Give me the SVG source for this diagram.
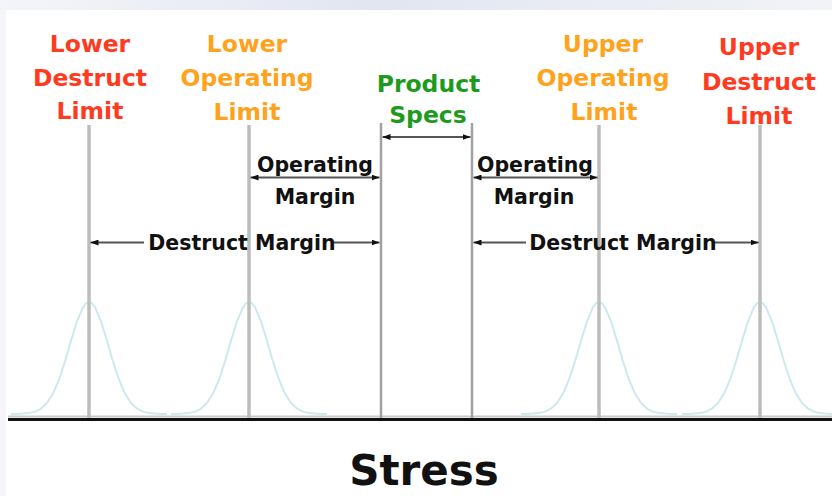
<svg xmlns="http://www.w3.org/2000/svg" width="832" height="496" viewBox="0 0 832 496">
  <style>
    .lbl { font-family: "DejaVu Sans", Verdana, sans-serif; font-weight: bold; text-anchor: middle; }
    .limit { font-size: 23.5px; }
    .destruct { fill: #ff3b1f; }
    .operating { fill: #ffa21c; }
    .spec { fill: #1e9b1e; font-size: 23.5px; }
    .margin { fill: #111111; font-size: 20.5px; }
    .axis-title { fill: #111111; font-size: 42px; }
    .limit-line { stroke: #bcbcbc; stroke-width: 3.5; }
    .spec-line { stroke: #a2a2a2; stroke-width: 2.5; }
    .dim { stroke: #555555; stroke-width: 2; fill: none; }
    .bell { stroke: #cde9ee; stroke-width: 2; fill: none; stroke-linejoin: round; }
  </style>
  <defs>
    <linearGradient id="topBand" x1="0" y1="0" x2="1" y2="0">
      <stop offset="0" stop-color="#f4f5fa"/>
      <stop offset="0.45" stop-color="#e2e6ef"/>
      <stop offset="1" stop-color="#f1f3f7"/>
    </linearGradient>
    <marker id="tip" viewBox="0 0 8 6" refX="8" refY="3" markerWidth="8" markerHeight="6" markerUnits="userSpaceOnUse" orient="auto-start-reverse">
      <path d="M0,0 L8,3 L0,6 z" fill="#111111"/>
    </marker>
    <!-- normal distribution curve, centred on x = 0 -->
    <path id="bellCurve" class="bell" d="M-78,414 L-72,414 L-66,413.6 L-60,413 L-54,411.6 L-48,408.6 L-42,403 L-36,393.6 L-30,379.7 L-24,361.5 L-18,340.9 L-12,321.3 L-6,307.2 L-3,303.3 L0,302 L3,303.3 L6,307.2 L12,321.3 L18,340.9 L24,361.5 L30,379.7 L36,393.6 L42,403 L48,408.6 L54,411.6 L60,413 L66,413.6 L72,414 L78,414"/>
  </defs>

  <!-- page background -->
  <rect x="0" y="0" width="832" height="496" fill="#ffffff"/>
  <rect x="0" y="0" width="832" height="10" fill="url(#topBand)"/>
  <rect x="0" y="10" width="6" height="486" fill="#f5f5fa"/>

  <!-- distributions around each limit -->
  <g id="distributions">
    <use href="#bellCurve" transform="translate(89,0)"/>
    <use href="#bellCurve" transform="translate(249,0)"/>
    <use href="#bellCurve" transform="translate(599,0)"/>
    <use href="#bellCurve" transform="translate(760,0)"/>
  </g>

  <!-- stress axis -->
  <g id="axis">
    <line x1="8" y1="416.5" x2="832" y2="416.5" stroke="#c9c9c9" stroke-width="2"/>
    <line x1="8" y1="419.5" x2="832" y2="419.5" stroke="#111111" stroke-width="3"/>
    <text class="lbl axis-title" x="424" y="485">Stress</text>
  </g>

  <g id="lower-destruct-limit">
    <line class="limit-line" x1="89" y1="125" x2="89" y2="418"/>
    <text class="lbl limit destruct" x="90" y="52">Lower</text>
    <text class="lbl limit destruct" x="90" y="86">Destruct</text>
    <text class="lbl limit destruct" x="90" y="119">Limit</text>
  </g>

  <g id="lower-operating-limit">
    <line class="limit-line" x1="249" y1="125" x2="249" y2="418"/>
    <text class="lbl limit operating" x="247" y="52">Lower</text>
    <text class="lbl limit operating" x="247" y="86">Operating</text>
    <text class="lbl limit operating" x="247" y="120">Limit</text>
  </g>

  <g id="product-specs">
    <line class="spec-line" x1="381" y1="123" x2="381" y2="418"/>
    <line class="spec-line" x1="472" y1="123" x2="472" y2="418"/>
    <text class="lbl spec" x="428.5" y="92">Product</text>
    <text class="lbl spec" x="428" y="123">Specs</text>
  </g>

  <g id="upper-operating-limit">
    <line class="limit-line" x1="599" y1="125" x2="599" y2="418"/>
    <text class="lbl limit operating" x="603" y="52">Upper</text>
    <text class="lbl limit operating" x="603" y="86">Operating</text>
    <text class="lbl limit operating" x="604" y="120">Limit</text>
  </g>

  <g id="upper-destruct-limit">
    <line class="limit-line" x1="760" y1="125" x2="760" y2="418"/>
    <text class="lbl limit destruct" x="759" y="55">Upper</text>
    <text class="lbl limit destruct" x="759" y="90">Destruct</text>
    <text class="lbl limit destruct" x="759" y="124">Limit</text>
  </g>

  <!-- dimension arrows between limits -->
  <g id="connectors">
    <line class="dim" x1="382.5" y1="137" x2="470.5" y2="137" marker-start="url(#tip)" marker-end="url(#tip)"/>
    <line class="dim" x1="250.5" y1="177.5" x2="379.5" y2="177.5" marker-start="url(#tip)" marker-end="url(#tip)"/>
    <line class="dim" x1="473.5" y1="177.5" x2="597.5" y2="177.5" marker-start="url(#tip)" marker-end="url(#tip)"/>
    <line class="dim" x1="90.5" y1="242.5" x2="144" y2="242.5" marker-start="url(#tip)"/>
    <line class="dim" x1="333" y1="242.5" x2="379.5" y2="242.5" marker-end="url(#tip)"/>
    <line class="dim" x1="473.5" y1="242.5" x2="526" y2="242.5" marker-start="url(#tip)"/>
    <line class="dim" x1="713" y1="242.5" x2="758.5" y2="242.5" marker-end="url(#tip)"/>
  </g>

  <g id="margin-labels">
    <text class="lbl margin" x="315" y="172">Operating</text>
    <text class="lbl margin" x="315" y="204">Margin</text>
    <text class="lbl margin" x="535" y="172">Operating</text>
    <text class="lbl margin" x="534" y="204">Margin</text>
    <text class="lbl margin" x="242" y="250">Destruct Margin</text>
    <text class="lbl margin" x="623" y="250">Destruct Margin</text>
  </g>
</svg>
